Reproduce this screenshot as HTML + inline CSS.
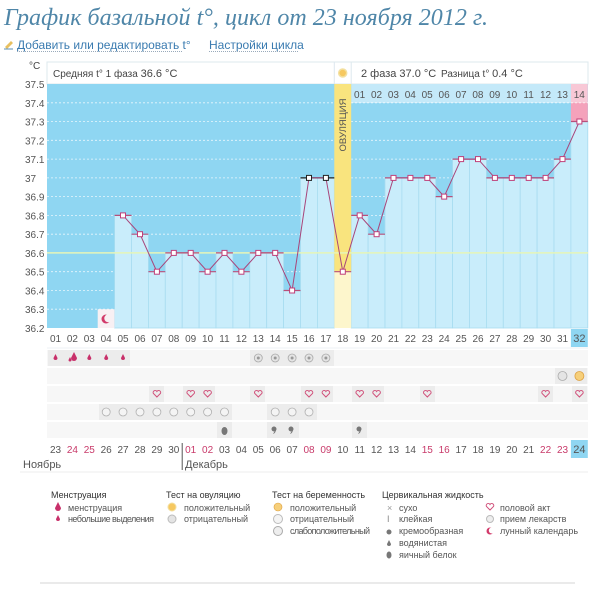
<!DOCTYPE html>
<html><head><meta charset="utf-8"><style>
body{margin:0;background:#fff;width:600px;height:596px;overflow:hidden;font-family:"Liberation Sans",sans-serif}
</style></head><body>
<svg width="600" height="596" xmlns="http://www.w3.org/2000/svg" font-family="Liberation Sans, sans-serif">
<text x="4" y="25" font-family="Liberation Serif, serif" font-style="italic" font-size="24" fill="#4f86a8" textLength="484">График базальной t°, цикл от 23 ноября 2012 г.</text>
<path d="M5 47 l6 -6 l2 2 l-6 6z" fill="#e8c060"/><path d="M4 49 h9" stroke="#5b8fb0"/>
<text x="17" y="49" font-size="12" fill="#3a7bb0">Добавить или редактировать t°</text>
<line x1="17" y1="51.5" x2="183" y2="51.5" stroke="#9ab" stroke-dasharray="1,1"/>
<text x="209" y="49" font-size="12" fill="#3a7bb0">Настройки цикла</text>
<line x1="209" y1="51.5" x2="298" y2="51.5" stroke="#9ab" stroke-dasharray="1,1"/>

<rect x="47" y="62" width="541" height="22" fill="#fff" stroke="#dde8ee"/>
<text x="53" y="77" font-size="10" fill="#444">Средняя t° 1 фаза <tspan font-size="11">36.6 °C</tspan></text>
<line x1="334.3" y1="62" x2="334.3" y2="84" stroke="#dde8ee"/>
<line x1="351.2" y1="62" x2="351.2" y2="84" stroke="#dde8ee"/>
<circle cx="342.7" cy="73" r="4" fill="#f6c860" stroke="#f3e0a0" stroke-width="1.5"/>
<text x="361" y="77" font-size="11" fill="#444">2 фаза 37.0 °C</text>
<text x="441" y="77" font-size="10" fill="#444">Разница t° <tspan font-size="11">0.4 °C</tspan></text>
<text x="29" y="69" font-size="10" fill="#444">°C</text>

<rect x="47" y="84" width="541" height="244" fill="#8fd6f2"/>
<rect x="351.2" y="84" width="219.7" height="19" fill="#c4e9f9"/>
<rect x="570.9" y="84" width="16.9" height="19" fill="#f8c8d6"/>
<rect x="570.9" y="103" width="16.9" height="18.5" fill="#f4a2bb"/>
<g stroke="#fff" stroke-dasharray="2,2" stroke-width="0.8" opacity="0.8">
<line x1="47" x2="588" y1="102.8" y2="102.8"/><line x1="47" x2="588" y1="121.5" y2="121.5"/><line x1="47" x2="588" y1="140.3" y2="140.3"/><line x1="47" x2="588" y1="159.1" y2="159.1"/><line x1="47" x2="588" y1="177.9" y2="177.9"/><line x1="47" x2="588" y1="196.6" y2="196.6"/><line x1="47" x2="588" y1="215.4" y2="215.4"/><line x1="47" x2="588" y1="234.2" y2="234.2"/><line x1="47" x2="588" y1="252.9" y2="252.9"/><line x1="47" x2="588" y1="271.7" y2="271.7"/><line x1="47" x2="588" y1="290.5" y2="290.5"/><line x1="47" x2="588" y1="309.2" y2="309.2"/>
</g>
<g fill="#c9edfb" stroke="#a8dcf0" stroke-width="0.8">
<rect x="114.6" y="215.4" width="16.9" height="112.6"/><rect x="131.5" y="234.2" width="16.9" height="93.8"/><rect x="148.4" y="271.7" width="16.9" height="56.3"/><rect x="165.3" y="252.9" width="16.9" height="75.1"/><rect x="182.2" y="252.9" width="16.9" height="75.1"/><rect x="199.1" y="271.7" width="16.9" height="56.3"/><rect x="216" y="252.9" width="16.9" height="75.1"/><rect x="232.9" y="271.7" width="16.9" height="56.3"/><rect x="249.8" y="252.9" width="16.9" height="75.1"/><rect x="266.7" y="252.9" width="16.9" height="75.1"/><rect x="283.6" y="290.5" width="16.9" height="37.5"/><rect x="300.5" y="177.9" width="16.9" height="150.1"/><rect x="317.4" y="177.9" width="16.9" height="150.1"/>
<rect x="351.2" y="215.4" width="16.9" height="112.6"/><rect x="368.1" y="234.2" width="16.9" height="93.8"/><rect x="385" y="177.9" width="16.9" height="150.1"/><rect x="401.9" y="177.9" width="16.9" height="150.1"/><rect x="418.8" y="177.9" width="16.9" height="150.1"/><rect x="435.7" y="196.6" width="16.9" height="131.4"/><rect x="452.6" y="159.1" width="16.9" height="168.9"/><rect x="469.5" y="159.1" width="16.9" height="168.9"/><rect x="486.4" y="177.9" width="16.9" height="150.1"/><rect x="503.3" y="177.9" width="16.9" height="150.1"/><rect x="520.2" y="177.9" width="16.9" height="150.1"/><rect x="537.1" y="177.9" width="16.9" height="150.1"/><rect x="554" y="159.1" width="16.9" height="168.9"/><rect x="570.9" y="121.5" width="16.9" height="206.5"/>
</g>
<rect x="334.3" y="84" width="16.9" height="187.7" fill="#f9e47e"/>
<rect x="334.3" y="271.7" width="16.9" height="56.3" fill="#fdf6cc"/>
<text transform="translate(346,125) rotate(-90)" font-size="9.5" fill="#555" text-anchor="middle">ОВУЛЯЦИЯ</text>
<rect x="97.7" y="309.2" width="16.9" height="18.8" fill="#f8f0f3"/>
<circle cx="106" cy="319" r="4.5" fill="#d23a6a"/><circle cx="108.3" cy="318.3" r="4" fill="#f8f0f3"/>
<line x1="47" x2="588" y1="252.9" y2="252.9" stroke="#e6f5b8" stroke-width="1.5"/>
<g font-size="10" fill="#555" text-anchor="middle">
<text x="359.6" y="98">01</text><text x="376.5" y="98">02</text><text x="393.4" y="98">03</text><text x="410.3" y="98">04</text><text x="427.2" y="98">05</text><text x="444.1" y="98">06</text><text x="461" y="98">07</text><text x="477.9" y="98">08</text><text x="494.8" y="98">09</text><text x="511.7" y="98">10</text><text x="528.6" y="98">11</text><text x="545.5" y="98">12</text><text x="562.4" y="98">13</text><text x="579.3" y="98">14</text>
</g>
<g stroke="#b8507a" stroke-width="1.2">
<line x1="114.6" x2="131.5" y1="215.4" y2="215.4"/><line x1="131.5" x2="148.4" y1="234.2" y2="234.2"/><line x1="148.4" x2="165.3" y1="271.7" y2="271.7"/><line x1="165.3" x2="182.2" y1="252.9" y2="252.9"/><line x1="182.2" x2="199.1" y1="252.9" y2="252.9"/><line x1="199.1" x2="216" y1="271.7" y2="271.7"/><line x1="216" x2="232.9" y1="252.9" y2="252.9"/><line x1="232.9" x2="249.8" y1="271.7" y2="271.7"/><line x1="249.8" x2="266.7" y1="252.9" y2="252.9"/><line x1="266.7" x2="283.6" y1="252.9" y2="252.9"/><line x1="283.6" x2="300.5" y1="290.5" y2="290.5"/><line x1="334.3" x2="351.2" y1="271.7" y2="271.7"/><line x1="351.2" x2="368.1" y1="215.4" y2="215.4"/><line x1="368.1" x2="385" y1="234.2" y2="234.2"/><line x1="385" x2="435.7" y1="177.9" y2="177.9"/><line x1="435.7" x2="452.6" y1="196.6" y2="196.6"/><line x1="452.6" x2="486.4" y1="159.1" y2="159.1"/><line x1="486.4" x2="554" y1="177.9" y2="177.9"/><line x1="554" x2="570.9" y1="159.1" y2="159.1"/><line x1="570.9" x2="587.8" y1="121.5" y2="121.5"/>
</g>
<line x1="300.5" x2="334.3" y1="177.9" y2="177.9" stroke="#222" stroke-width="1.2"/>
<polyline fill="none" stroke="#a8457a" stroke-width="1" points="123,215.4 140,234.2 156.9,271.7 173.8,252.9 190.7,252.9 207.6,271.7 224.5,252.9 241.4,271.7 258.3,252.9 275.2,252.9 292.1,290.5 309,177.9 325.9,177.9 342.8,271.7 359.7,215.4 376.6,234.2 393.5,177.9 410.4,177.9 427.3,177.9 444.2,196.6 461.1,159.1 478,159.1 494.9,177.9 511.8,177.9 528.7,177.9 545.6,177.9 562.5,159.1 579.4,121.5"/>
<g fill="#fff" stroke="#c0407a" stroke-width="1">
<rect x="120.5" y="212.9" width="5" height="5"/><rect x="137.5" y="231.7" width="5" height="5"/><rect x="154.4" y="269.2" width="5" height="5"/><rect x="171.3" y="250.4" width="5" height="5"/><rect x="188.2" y="250.4" width="5" height="5"/><rect x="205.1" y="269.2" width="5" height="5"/><rect x="222" y="250.4" width="5" height="5"/><rect x="238.9" y="269.2" width="5" height="5"/><rect x="255.8" y="250.4" width="5" height="5"/><rect x="272.7" y="250.4" width="5" height="5"/><rect x="289.6" y="288" width="5" height="5"/><rect x="340.3" y="269.2" width="5" height="5"/><rect x="357.2" y="212.9" width="5" height="5"/><rect x="374.1" y="231.7" width="5" height="5"/><rect x="391" y="175.4" width="5" height="5"/><rect x="407.9" y="175.4" width="5" height="5"/><rect x="424.8" y="175.4" width="5" height="5"/><rect x="441.7" y="194.1" width="5" height="5"/><rect x="458.6" y="156.6" width="5" height="5"/><rect x="475.5" y="156.6" width="5" height="5"/><rect x="492.4" y="175.4" width="5" height="5"/><rect x="509.3" y="175.4" width="5" height="5"/><rect x="526.2" y="175.4" width="5" height="5"/><rect x="543.1" y="175.4" width="5" height="5"/><rect x="560" y="156.6" width="5" height="5"/><rect x="576.9" y="119" width="5" height="5"/>
</g>
<g fill="#fff" stroke="#222"><rect x="306.5" y="175.4" width="5" height="5"/><rect x="323.4" y="175.4" width="5" height="5"/></g>
<g font-size="10" fill="#555">
<text x="25" y="88">37.5</text><text x="25" y="106.8">37.4</text><text x="25" y="125.5">37.3</text><text x="25" y="144.3">37.2</text><text x="25" y="163.1">37.1</text><text x="25" y="181.9">37</text><text x="25" y="200.6">36.9</text><text x="25" y="219.4">36.8</text><text x="25" y="238.2">36.7</text><text x="25" y="256.9">36.6</text><text x="25" y="275.7">36.5</text><text x="25" y="294.5">36.4</text><text x="25" y="313.2">36.3</text><text x="25" y="332">36.2</text>
</g>
<rect x="570.9" y="329" width="16.9" height="18" fill="#8fd6f2"/>
<g font-size="10" fill="#555" text-anchor="middle">
<text x="55.5" y="342">01</text><text x="72.4" y="342">02</text><text x="89.3" y="342">03</text><text x="106.2" y="342">04</text><text x="123" y="342">05</text><text x="140" y="342">06</text><text x="156.9" y="342">07</text><text x="173.8" y="342">08</text><text x="190.7" y="342">09</text><text x="207.6" y="342">10</text><text x="224.5" y="342">11</text><text x="241.4" y="342">12</text><text x="258.3" y="342">13</text><text x="275.2" y="342">14</text><text x="292.1" y="342">15</text><text x="309" y="342">16</text><text x="325.9" y="342">17</text><text x="342.8" y="342">18</text><text x="359.7" y="342">19</text><text x="376.6" y="342">20</text><text x="393.5" y="342">21</text><text x="410.4" y="342">22</text><text x="427.3" y="342">23</text><text x="444.2" y="342">24</text><text x="461.1" y="342">25</text><text x="478" y="342">26</text><text x="494.9" y="342">27</text><text x="511.8" y="342">28</text><text x="528.7" y="342">29</text><text x="545.6" y="342">30</text><text x="562.5" y="342">31</text><text x="579.4" y="342" font-size="11">32</text>
</g>
<line x1="47" x2="588" y1="348" y2="348" stroke="#eef2f4"/>
<g fill="#f7f7f7">
<rect x="47" y="350" width="541" height="16"/><rect x="47" y="368" width="541" height="16"/><rect x="47" y="386" width="541" height="16"/><rect x="47" y="404" width="541" height="16"/><rect x="47" y="422" width="541" height="16"/>
</g>
<g fill="#ececec">
<rect x="48" y="350" width="82" height="16"/><rect x="250" y="350" width="84" height="16"/>
<rect x="555" y="368" width="32" height="16"/>
<rect x="149" y="386" width="15" height="16"/><rect x="183" y="386" width="32" height="16"/><rect x="250" y="386" width="15" height="16"/><rect x="301" y="386" width="32" height="16"/><rect x="352" y="386" width="32" height="16"/><rect x="420" y="386" width="15" height="16"/><rect x="538" y="386" width="15" height="16"/><rect x="572" y="386" width="15" height="16"/>
<rect x="99" y="404" width="133" height="16"/><rect x="267" y="404" width="50" height="16"/>
<rect x="217" y="422" width="15" height="16"/><rect x="267" y="422" width="32" height="16"/><rect x="352" y="422" width="15" height="16"/>
</g>
<g fill="#c8306a">
<path d="M55.5 354 l2 4 a2 2 0 1 1 -4 0z"/><path d="M74 352 l3 6 a3 3 0 1 1 -6 0z"/><path d="M70 357 l1.5 3 a1.5 1.5 0 1 1 -3 0z"/><path d="M89.3 354 l2 4 a2 2 0 1 1 -4 0z"/><path d="M106.2 354 l2 4 a2 2 0 1 1 -4 0z"/><path d="M123 354 l2 4 a2 2 0 1 1 -4 0z"/>
</g>
<g fill="#e4e4e4" stroke="#aaa" stroke-width="0.8">
<circle cx="258.3" cy="358" r="4"/><circle cx="275.2" cy="358" r="4"/><circle cx="292.1" cy="358" r="4"/><circle cx="309" cy="358" r="4"/><circle cx="325.9" cy="358" r="4"/>
<circle cx="562.5" cy="376" r="4.5"/>
</g>
<g fill="#999"><circle cx="258.3" cy="358" r="1.5"/><circle cx="275.2" cy="358" r="1.5"/><circle cx="292.1" cy="358" r="1.5"/><circle cx="309" cy="358" r="1.5"/><circle cx="325.9" cy="358" r="1.5"/></g>
<circle cx="579.4" cy="376" r="4.5" fill="#f6cf7a" stroke="#dda040" stroke-width="0.8"/>
<g fill="none" stroke="#d0507a" stroke-width="1">
<path d="M156.9 397 l-3.5 -3.5 a2 2 0 0 1 3.5 -2 a2 2 0 0 1 3.5 2z"/>
<path d="M190.7 397 l-3.5 -3.5 a2 2 0 0 1 3.5 -2 a2 2 0 0 1 3.5 2z"/><path d="M207.6 397 l-3.5 -3.5 a2 2 0 0 1 3.5 -2 a2 2 0 0 1 3.5 2z"/><path d="M258.3 397 l-3.5 -3.5 a2 2 0 0 1 3.5 -2 a2 2 0 0 1 3.5 2z"/><path d="M309 397 l-3.5 -3.5 a2 2 0 0 1 3.5 -2 a2 2 0 0 1 3.5 2z"/><path d="M325.9 397 l-3.5 -3.5 a2 2 0 0 1 3.5 -2 a2 2 0 0 1 3.5 2z"/><path d="M359.7 397 l-3.5 -3.5 a2 2 0 0 1 3.5 -2 a2 2 0 0 1 3.5 2z"/><path d="M376.6 397 l-3.5 -3.5 a2 2 0 0 1 3.5 -2 a2 2 0 0 1 3.5 2z"/><path d="M427.3 397 l-3.5 -3.5 a2 2 0 0 1 3.5 -2 a2 2 0 0 1 3.5 2z"/><path d="M545.6 397 l-3.5 -3.5 a2 2 0 0 1 3.5 -2 a2 2 0 0 1 3.5 2z"/><path d="M579.4 397 l-3.5 -3.5 a2 2 0 0 1 3.5 -2 a2 2 0 0 1 3.5 2z"/>
</g>
<g fill="#f4f4f4" stroke="#b0b0b0" stroke-width="0.8">
<circle cx="106.2" cy="412" r="4"/><circle cx="123" cy="412" r="4"/><circle cx="140" cy="412" r="4"/><circle cx="156.9" cy="412" r="4"/><circle cx="173.8" cy="412" r="4"/><circle cx="190.7" cy="412" r="4"/><circle cx="207.6" cy="412" r="4"/><circle cx="224.5" cy="412" r="4"/><circle cx="275.2" cy="412" r="4"/><circle cx="292.1" cy="412" r="4"/><circle cx="309" cy="412" r="4"/>
</g>
<g fill="#777">
<ellipse cx="224.5" cy="431" rx="3" ry="4"/>
<circle cx="274" cy="429" r="2.5"/><path d="M276 429 q0 4 -3 5 z"/>
<circle cx="291" cy="429" r="2.5"/><path d="M293 429 q0 4 -3 5 z"/>
<circle cx="359" cy="429" r="2.5"/><path d="M361 429 q0 4 -3 5 z"/>
</g>
<rect x="570.9" y="440" width="16.9" height="18" fill="#8fd6f2"/>
<g font-size="10" fill="#555" text-anchor="middle">
<text x="55.5" y="453">23</text><text x="72.4" y="453" fill="#c83a6a">24</text><text x="89.3" y="453" fill="#c83a6a">25</text><text x="106.2" y="453">26</text><text x="123" y="453">27</text><text x="140" y="453">28</text><text x="156.9" y="453">29</text><text x="173.8" y="453">30</text><text x="190.7" y="453" fill="#c83a6a">01</text><text x="207.6" y="453" fill="#c83a6a">02</text><text x="224.5" y="453">03</text><text x="241.4" y="453">04</text><text x="258.3" y="453">05</text><text x="275.2" y="453">06</text><text x="292.1" y="453">07</text><text x="309" y="453" fill="#c83a6a">08</text><text x="325.9" y="453" fill="#c83a6a">09</text><text x="342.8" y="453">10</text><text x="359.7" y="453">11</text><text x="376.6" y="453">12</text><text x="393.5" y="453">13</text><text x="410.4" y="453">14</text><text x="427.3" y="453" fill="#c83a6a">15</text><text x="444.2" y="453" fill="#c83a6a">16</text><text x="461.1" y="453">17</text><text x="478" y="453">18</text><text x="494.9" y="453">19</text><text x="511.8" y="453">20</text><text x="528.7" y="453">21</text><text x="545.6" y="453" fill="#c83a6a">22</text><text x="562.5" y="453" fill="#c83a6a">23</text><text x="579.4" y="453" font-size="11">24</text>
</g>
<line x1="182.2" x2="182.2" y1="443" y2="470" stroke="#555"/>
<text x="23" y="468" font-size="11" fill="#555">Ноябрь</text>
<text x="185" y="468" font-size="11" fill="#555">Декабрь</text>
<line x1="20" x2="588" y1="472" y2="472" stroke="#eee"/>
<g font-size="9" fill="#555">
<text x="51" y="498" fill="#333">Менструация</text>
<path d="M58 502 l3 6 a3 3 0 1 1 -6 0z" fill="#c8306a"/><text x="68" y="511">менструация</text>
<path d="M58 515 l2 4 a2 2 0 1 1 -4 0z" fill="#c8306a"/><text x="68" y="522" textLength="86">небольшие выделения</text>
<text x="166" y="498" fill="#333">Тест на овуляцию</text>
<circle cx="172" cy="507" r="4" fill="#f6c860" stroke="#f3dfa0"/><text x="184" y="511">положительный</text>
<circle cx="172" cy="519" r="4" fill="#e4e4e4" stroke="#bbb"/><text x="184" y="522">отрицательный</text>
<text x="272" y="498" fill="#333">Тест на беременность</text>
<circle cx="278" cy="507" r="4" fill="#f6cf7a" stroke="#dda040" stroke-width="0.6"/><text x="290" y="511">положительный</text>
<circle cx="278" cy="519" r="4.5" fill="#f4f4f4" stroke="#bbb"/><text x="290" y="522">отрицательный</text>
<circle cx="278" cy="531" r="4.5" fill="#eee" stroke="#aaa"/><text x="290" y="534" textLength="80">слабоположительный</text>
<text x="382" y="498" fill="#333">Цервикальная жидкость</text>
<text x="387" y="511" fill="#999">×</text><text x="399" y="511">сухо</text>
<text x="387" y="522" fill="#888">I</text><text x="399" y="522">клейкая</text>
<circle cx="389" cy="532" r="2.5" fill="#777"/><text x="399" y="534">кремообразная</text>
<path d="M389 540 l2 4 a2 2 0 1 1 -4 0z" fill="#777"/><text x="399" y="546">водянистая</text>
<ellipse cx="389" cy="555" rx="2.5" ry="3.5" fill="#777"/><text x="399" y="558">яичный белок</text>
<path d="M490 510 l-3.5 -3.5 a2 2 0 0 1 3.5 -2 a2 2 0 0 1 3.5 2z" fill="none" stroke="#d0507a"/><text x="500" y="511">половой акт</text>
<circle cx="490" cy="519" r="3.5" fill="#eee" stroke="#bbb"/><text x="500" y="522">прием лекарств</text>
<circle cx="490" cy="531" r="3.5" fill="#d23a6a"/><circle cx="491.8" cy="530.5" r="3" fill="#fff"/><text x="500" y="534">лунный календарь</text>
</g>
<line x1="40" x2="575" y1="583" y2="583" stroke="#e4e4e4" stroke-width="1.5"/>
</svg>
</body></html>
